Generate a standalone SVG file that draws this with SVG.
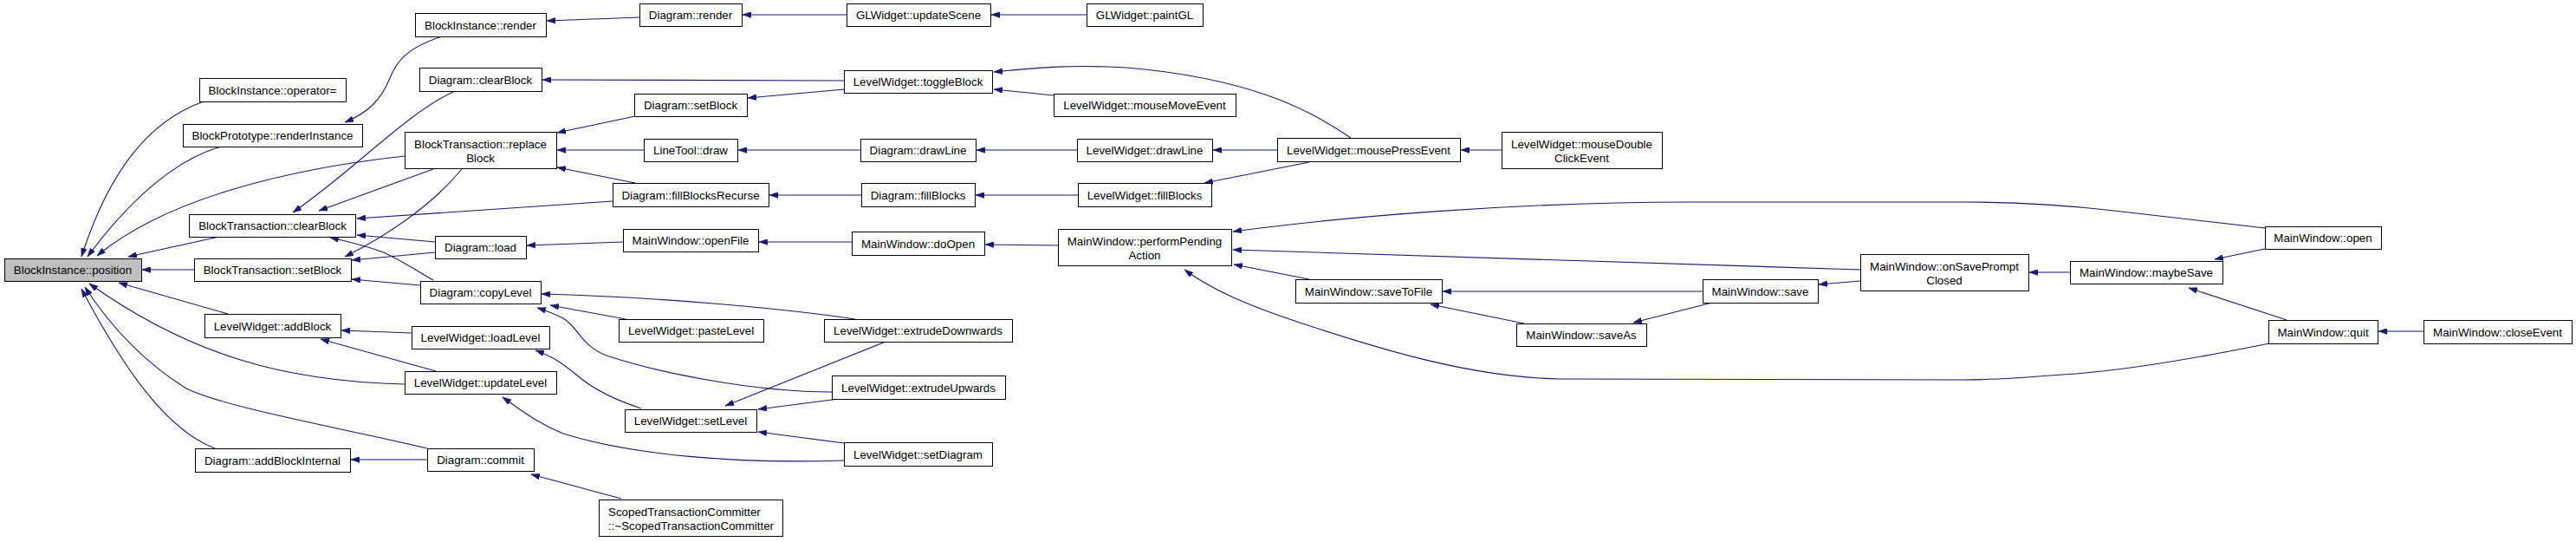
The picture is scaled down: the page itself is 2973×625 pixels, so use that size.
<svg xmlns="http://www.w3.org/2000/svg" width="2973" height="625" viewBox="0 0 2973 625">
<style>
.n rect{fill:#fff;stroke:#000;stroke-width:1}
.n.root rect{fill:#bfbfbf}
.n text{font-family:"Liberation Sans",Arial,Helvetica,sans-serif;font-size:13.33px;text-anchor:middle;fill:#000}
.n text.l{text-anchor:start}
#edges path{fill:none;stroke:#191970;stroke-width:1.1;marker-end:url(#ah)}
</style>
<defs>
<marker id="ah" viewBox="0 0 10 7" refX="10" refY="3.5" markerWidth="10" markerHeight="7" markerUnits="userSpaceOnUse" orient="auto">
<path d="M0,0 L10,3.5 L0,7 z" fill="#191970" stroke="#191970" stroke-width="0.5"/>
</marker>
</defs>
<rect width="2973" height="625" fill="#fff"/>
<g id="edges">
<path d="M235,117 C170,140 125,200 94,296"/>
<path d="M255,169 C200,185 150,230 101,296"/>
<path d="M467,180 C330,195 190,230 112,295"/>
<path d="M253,273 L148,296"/>
<path d="M224,311 L164,311"/>
<path d="M263,362 L137,326"/>
<path d="M467,443 C330,440 220,410 103,327"/>
<path d="M493,517 C400,495 260,470 215,448 C170,420 130,380 98,331"/>
<path d="M248,517 C190,495 140,420 94,333"/>
<path d="M510,42 C470,55 458,70 450,90 C440,115 425,130 398,141"/>
<path d="M738,20 L631,24"/>
<path d="M977,17 L857,17"/>
<path d="M1254,17 L1144,17"/>
<path d="M525,105 C470,130 410,195 338,245"/>
<path d="M500,195 L368,243"/>
<path d="M707,232 L412,252"/>
<path d="M502,279 L412,271"/>
<path d="M500,323 C480,312 460,298 440,290 C420,283 400,278 381,274"/>
<path d="M533,195 C500,235 450,270 398,296"/>
<path d="M502,291 L406,300"/>
<path d="M485,329 L406,322"/>
<path d="M475,384 L394,381"/>
<path d="M503,428 L370,391"/>
<path d="M493,530 L405,530"/>
<path d="M733,134 L643,153"/>
<path d="M743,173 L643,173"/>
<path d="M733,211 L643,193"/>
<path d="M974,93 L626,92"/>
<path d="M974,103 L863,113"/>
<path d="M993,173 L852,173"/>
<path d="M1243,173 L1127,173"/>
<path d="M1474,173 L1400,173"/>
<path d="M994,225 L888,225"/>
<path d="M1244,225 L1126,225"/>
<path d="M1511,187 L1390,211"/>
<path d="M1559,159 C1510,125 1440,90 1300,78 C1230,74 1190,79 1147,83"/>
<path d="M1216,110 L1147,103"/>
<path d="M1733,173 L1686,173"/>
<path d="M719,279 L608,283"/>
<path d="M983,279 L876,279"/>
<path d="M1221,283 L1137,282"/>
<path d="M2614,263 L2440,243 C2380,236 2320,233 2266,233 L1950,233 C1750,233 1550,250 1423,267"/>
<path d="M2147,311 L1423,288"/>
<path d="M1511,322 L1424,305"/>
<path d="M2619,396 C2540,412 2450,428 2380,432 C2330,436 2290,438 2266,438 L1800,437 C1700,435 1600,405 1500,372 C1440,352 1400,335 1367,311"/>
<path d="M1965,336 L1665,336"/>
<path d="M1759,373 L1651,351"/>
<path d="M1976,349 L1885,372"/>
<path d="M2147,324 L2099,328"/>
<path d="M2389,314 L2342,314"/>
<path d="M2614,287 L2556,299"/>
<path d="M2639,369 L2526,332"/>
<path d="M2797,382 L2745,382"/>
<path d="M987,368 C900,355 750,342 625,339"/>
<path d="M722,368 L635,352"/>
<path d="M960,452 C870,452 760,430 700,410 C670,398 668,378 650,367 C640,362 630,358 620,355"/>
<path d="M740,471 C700,458 680,445 665,432 C650,420 640,412 618,404"/>
<path d="M974,531 C850,535 730,525 650,500 C620,488 600,472 580,458"/>
<path d="M1022,394 L837,468"/>
<path d="M968,460 L875,472"/>
<path d="M974,511 L875,498"/>
<path d="M717,575 L613,547"/>
</g>
<g id="n_position" class="n root"><rect x="5.5" y="298.5" width="158" height="26"/><text x="84" y="316">BlockInstance::position</text></g>
<g id="n_operator" class="n"><rect x="230.5" y="90.5" width="169" height="27"/><text x="314.5" y="108.5">BlockInstance::operator=</text></g>
<g id="n_renderInstance" class="n"><rect x="211.5" y="143.5" width="207" height="26"/><text x="314.5" y="161">BlockPrototype::renderInstance</text></g>
<g id="n_bt_clearBlock" class="n"><rect x="218.5" y="247.5" width="192" height="26"/><text x="314.5" y="265">BlockTransaction::clearBlock</text></g>
<g id="n_bt_setBlock" class="n"><rect x="224.5" y="298.5" width="181" height="26"/><text x="314.5" y="316">BlockTransaction::setBlock</text></g>
<g id="n_lw_addBlock" class="n"><rect x="236.5" y="362.5" width="157" height="27"/><text x="314.5" y="380.5">LevelWidget::addBlock</text></g>
<g id="n_d_addBlockInternal" class="n"><rect x="225.5" y="517.5" width="179" height="27"/><text x="314.5" y="535.5">Diagram::addBlockInternal</text></g>
<g id="n_bi_render" class="n"><rect x="479.5" y="15.5" width="151" height="27"/><text x="554.5" y="33.5">BlockInstance::render</text></g>
<g id="n_d_render" class="n"><rect x="738.5" y="4.5" width="118" height="26"/><text x="797" y="22">Diagram::render</text></g>
<g id="n_d_clearBlock" class="n"><rect x="484.5" y="78.5" width="141" height="27"/><text x="554.5" y="96.5">Diagram::clearBlock</text></g>
<g id="n_d_setBlock" class="n"><rect x="732.5" y="108.5" width="130" height="26"/><text x="797" y="126">Diagram::setBlock</text></g>
<g id="n_bt_replaceBlock" class="n"><rect x="467.5" y="152.5" width="175" height="42"/><text x="554.5" y="171">BlockTransaction::replace</text><text x="554.5" y="187">Block</text></g>
<g id="n_linetool_draw" class="n"><rect x="743.5" y="160.5" width="108" height="26"/><text x="797" y="178">LineTool::draw</text></g>
<g id="n_d_fillBlocksRecurse" class="n"><rect x="707.5" y="211.5" width="180" height="27"/><text x="797" y="229.5">Diagram::fillBlocksRecurse</text></g>
<g id="n_mw_openFile" class="n"><rect x="719.5" y="264.5" width="156" height="26"/><text x="797" y="282">MainWindow::openFile</text></g>
<g id="n_d_load" class="n"><rect x="502.5" y="272.5" width="105" height="26"/><text x="554.5" y="290">Diagram::load</text></g>
<g id="n_d_copyLevel" class="n"><rect x="485.5" y="324.5" width="139" height="26"/><text x="554.5" y="342">Diagram::copyLevel</text></g>
<g id="n_lw_pasteLevel" class="n"><rect x="714.5" y="368.5" width="167" height="26"/><text x="797.5" y="386">LevelWidget::pasteLevel</text></g>
<g id="n_lw_loadLevel" class="n"><rect x="475.5" y="376.5" width="159" height="26"/><text x="554.5" y="394">LevelWidget::loadLevel</text></g>
<g id="n_lw_updateLevel" class="n"><rect x="467.5" y="428.5" width="175" height="26"/><text x="554.5" y="446">LevelWidget::updateLevel</text></g>
<g id="n_lw_setLevel" class="n"><rect x="721.5" y="472.5" width="152" height="26"/><text x="797" y="490">LevelWidget::setLevel</text></g>
<g id="n_d_commit" class="n"><rect x="493.5" y="517.5" width="123" height="26"/><text x="554.5" y="535">Diagram::commit</text></g>
<g id="n_scoped" class="n"><rect x="691.5" y="576.5" width="212" height="42"/><text class="l" x="702" y="595">ScopedTransactionCommitter</text><text class="l" x="702" y="611">::~ScopedTransactionCommitter</text></g>
<g id="n_gl_updateScene" class="n"><rect x="977.5" y="4.5" width="166" height="26"/><text x="1060" y="22">GLWidget::updateScene</text></g>
<g id="n_gl_paintGL" class="n"><rect x="1254.5" y="4.5" width="134" height="26"/><text x="1321" y="22">GLWidget::paintGL</text></g>
<g id="n_lw_toggleBlock" class="n"><rect x="974.5" y="81.5" width="171" height="26"/><text x="1059.5" y="99">LevelWidget::toggleBlock</text></g>
<g id="n_lw_mouseMoveEvent" class="n"><rect x="1216.5" y="108.5" width="210" height="26"/><text x="1321" y="126">LevelWidget::mouseMoveEvent</text></g>
<g id="n_d_drawLine" class="n"><rect x="993.5" y="160.5" width="133" height="26"/><text x="1059.5" y="178">Diagram::drawLine</text></g>
<g id="n_lw_drawLine" class="n"><rect x="1243.5" y="160.5" width="156" height="26"/><text x="1321" y="178">LevelWidget::drawLine</text></g>
<g id="n_d_fillBlocks" class="n"><rect x="994.5" y="211.5" width="131" height="27"/><text x="1059.5" y="229.5">Diagram::fillBlocks</text></g>
<g id="n_lw_fillBlocks" class="n"><rect x="1244.5" y="211.5" width="154" height="27"/><text x="1321" y="229.5">LevelWidget::fillBlocks</text></g>
<g id="n_mw_doOpen" class="n"><rect x="983.5" y="267.5" width="153" height="27"/><text x="1059.5" y="285.5">MainWindow::doOpen</text></g>
<g id="n_mw_performPendingAction" class="n"><rect x="1221.5" y="264.5" width="200" height="42"/><text x="1321" y="283">MainWindow::performPending</text><text x="1321" y="299">Action</text></g>
<g id="n_lw_extrudeDownwards" class="n"><rect x="951.5" y="368.5" width="217" height="26"/><text x="1059.5" y="386">LevelWidget::extrudeDownwards</text></g>
<g id="n_lw_extrudeUpwards" class="n"><rect x="960.5" y="433.5" width="200" height="27"/><text x="1060" y="451.5">LevelWidget::extrudeUpwards</text></g>
<g id="n_lw_setDiagram" class="n"><rect x="974.5" y="510.5" width="171" height="27"/><text x="1059.5" y="528.5">LevelWidget::setDiagram</text></g>
<g id="n_lw_mousePressEvent" class="n"><rect x="1474.5" y="159.5" width="211" height="27"/><text x="1579.5" y="177.5">LevelWidget::mousePressEvent</text></g>
<g id="n_lw_mouseDoubleClickEvent" class="n"><rect x="1733.5" y="152.5" width="185" height="42"/><text x="1825.5" y="171">LevelWidget::mouseDouble</text><text x="1825.5" y="187">ClickEvent</text></g>
<g id="n_mw_saveToFile" class="n"><rect x="1495.5" y="322.5" width="169" height="27"/><text x="1579.5" y="340.5">MainWindow::saveToFile</text></g>
<g id="n_mw_saveAs" class="n"><rect x="1750.5" y="373.5" width="150" height="26"/><text x="1825" y="391">MainWindow::saveAs</text></g>
<g id="n_mw_save" class="n"><rect x="1965.5" y="322.5" width="133" height="27"/><text x="2031.5" y="340.5">MainWindow::save</text></g>
<g id="n_mw_onSavePromptClosed" class="n"><rect x="2147.5" y="293.5" width="194" height="42"/><text x="2244" y="312">MainWindow::onSavePrompt</text><text x="2244" y="328">Closed</text></g>
<g id="n_mw_maybeSave" class="n"><rect x="2389.5" y="301.5" width="176" height="26"/><text x="2477" y="319">MainWindow::maybeSave</text></g>
<g id="n_mw_open" class="n"><rect x="2614.5" y="261.5" width="134" height="26"/><text x="2681" y="279">MainWindow::open</text></g>
<g id="n_mw_quit" class="n"><rect x="2618.5" y="369.5" width="126" height="27"/><text x="2681" y="387.5">MainWindow::quit</text></g>
<g id="n_mw_closeEvent" class="n"><rect x="2797.5" y="369.5" width="171" height="27"/><text x="2882.5" y="387.5">MainWindow::closeEvent</text></g>
</svg>
